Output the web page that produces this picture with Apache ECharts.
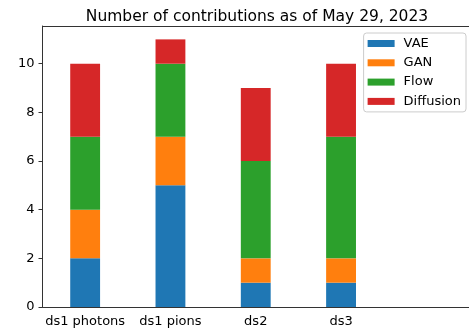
<!DOCTYPE html>
<html>
<head>
<meta charset="utf-8">
<script src="https://cdn.jsdelivr.net/npm/echarts@6/dist/echarts.min.js"></script>
<style>
  html, body { margin: 0; padding: 0; background: #fff; }
  #chart { width: 469px; height: 329px; }
</style>
</head>
<body>
<div id="chart"></div>
<script>
// Datasets (an empty trailing slot keeps the extra room on the right of the axes)
const categories = ['ds1 photons', 'ds1 pions', 'ds2', 'ds3', ''];
const vae       = [2, 5, 1, 1];
const gan       = [2, 2, 1, 1];
const flow      = [3, 3, 4, 5];
const diffusion = [3, 1, 3, 3];
const yTicks    = [0, 2, 4, 6, 8, 10];

const FONT = 'DejaVu Sans';
const AXIS = '#333';
const colors = ['#1f77b4', '#ff7f0e', '#2ca02c', '#d62728'];

function bar(name, data, color) {
  return {
    name: name,
    type: 'bar',
    stack: 'total',
    data: data,
    barWidth: '35%',
    itemStyle: { color: color },
    emphasis: { disabled: true }
  };
}

const chart = echarts.init(document.getElementById('chart'), null, { renderer: 'canvas' });
chart.setOption({
  animation: false,
  backgroundColor: '#fff',
  title: {
    text: 'Number of contributions as of May 29, 2023',
    left: 252,
    textAlign: 'center',
    top: 4,
    textStyle: { fontFamily: FONT, fontSize: 15.5, fontWeight: 'normal', color: '#000' }
  },
  grid: { left: 42.5, right: -3.5, top: 26, bottom: 22 },
  legend: {
    orient: 'vertical',
    right: 3,
    top: 33,
    align: 'left',
    data: ['VAE', 'GAN', 'Flow', 'Diffusion'],
    icon: 'rect',
    itemWidth: 27,
    itemHeight: 7,
    itemGap: 6.3,
    padding: [4, 5, 4, 4],
    borderColor: '#cccccc',
    borderWidth: 1,
    borderRadius: 3,
    textStyle: { fontFamily: FONT, fontSize: 13, color: '#000', lineHeight: 13, padding: [0, 0, 0, 4] }
  },
  xAxis: [{
    type: 'category',
    data: categories,
    boundaryGap: true,
    axisLine: { lineStyle: { color: AXIS, width: 1 } },
    axisTick: {
      alignWithLabel: true, length: 4,
      interval: function (i) { return i < 4; },
      lineStyle: { color: AXIS }
    },
    axisLabel: { fontFamily: FONT, fontSize: 13, color: '#000', margin: 8, interval: 0 },
    splitLine: { show: false }
  }, {
    // top frame line
    type: 'category',
    position: 'top',
    data: categories,
    axisLine: { lineStyle: { color: AXIS, width: 1 } },
    axisTick: { show: false },
    axisLabel: { show: false },
    splitLine: { show: false }
  }],
  yAxis: {
    type: 'value',
    min: 0,
    max: 11.55,
    interval: 2,
    axisLine: { show: true, lineStyle: { color: AXIS, width: 1 } },
    axisTick: { show: true, length: 4, lineStyle: { color: AXIS } },
    axisLabel: {
      fontFamily: FONT, fontSize: 13, color: '#000', margin: 8,
      showMaxLabel: false,
      formatter: function (v) { return yTicks.indexOf(v) >= 0 ? String(v) : ''; }
    },
    splitLine: { show: false }
  },
  series: [
    bar('VAE', vae, colors[0]),
    bar('GAN', gan, colors[1]),
    bar('Flow', flow, colors[2]),
    bar('Diffusion', diffusion, colors[3])
  ]
});
</script>
</body>
</html>
